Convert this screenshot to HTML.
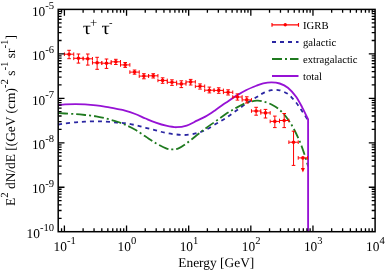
<!DOCTYPE html>
<html><head><meta charset="utf-8"><title>plot</title>
<style>html,body{margin:0;padding:0;background:#fff;font-family:"Liberation Serif",serif}svg{display:block;text-rendering:geometricPrecision} #w{will-change:transform;width:389px;height:273px}</style></head>
<body>
<div id="w">
<svg width="389" height="273" viewBox="0 0 389 273" style="display:block">
<g fill="none" stroke-linejoin="round">
<path d="M58.20 124.80 C58.35 124.75 57.97 124.72 59.10 124.50 C60.23 124.28 62.25 123.87 65.00 123.50 C67.75 123.13 72.27 122.62 75.60 122.30 C78.93 121.98 81.58 121.77 85.00 121.60 C88.42 121.43 92.60 121.28 96.10 121.30 C99.60 121.32 102.57 121.50 106.00 121.70 C109.43 121.90 113.53 122.25 116.70 122.50 C119.87 122.75 121.90 122.77 125.00 123.20 C128.10 123.63 131.87 124.33 135.30 125.10 C138.73 125.87 142.18 126.92 145.60 127.80 C149.02 128.68 152.38 129.53 155.80 130.40 C159.22 131.27 162.67 132.32 166.10 133.00 C169.53 133.68 172.97 134.18 176.40 134.50 C179.83 134.82 183.27 135.13 186.70 134.90 C190.13 134.67 193.90 133.90 197.00 133.10 C200.10 132.30 202.20 131.60 205.30 130.10 C208.40 128.60 212.18 126.12 215.60 124.10 C219.02 122.08 222.38 120.22 225.80 118.00 C229.22 115.78 232.67 113.22 236.10 110.80 C239.53 108.38 242.97 105.80 246.40 103.50 C249.83 101.20 253.90 98.73 256.70 97.00 C259.50 95.27 260.73 94.23 263.20 93.10 C265.67 91.97 268.75 90.67 271.50 90.20 C274.25 89.73 276.97 89.68 279.70 90.30 C282.43 90.92 285.85 92.65 287.90 93.90 C289.95 95.15 290.63 96.37 292.00 97.80 C293.37 99.23 294.90 100.98 296.10 102.50 C297.30 104.02 298.17 105.40 299.20 106.90 C300.23 108.40 301.33 110.07 302.30 111.50 C303.27 112.93 304.13 114.15 305.00 115.50 C305.87 116.85 307.08 118.92 307.50 119.60 " stroke="#2a26a2" stroke-width="1.8" stroke-dasharray="4 4"/>
<path d="M58.20 113.10 C58.35 113.12 57.97 113.13 59.10 113.20 C60.23 113.27 62.25 113.35 65.00 113.50 C67.75 113.65 72.27 113.85 75.60 114.10 C78.93 114.35 81.58 114.63 85.00 115.00 C88.42 115.37 92.60 115.72 96.10 116.30 C99.60 116.88 102.57 117.63 106.00 118.50 C109.43 119.37 113.53 120.47 116.70 121.50 C119.87 122.53 121.90 123.32 125.00 124.70 C128.10 126.08 131.87 127.82 135.30 129.80 C138.73 131.78 142.18 134.37 145.60 136.60 C149.02 138.83 152.38 141.25 155.80 143.20 C159.22 145.15 163.35 147.27 166.10 148.30 C168.85 149.33 170.23 149.40 172.30 149.40 C174.37 149.40 176.10 149.33 178.50 148.30 C180.90 147.27 183.62 145.42 186.70 143.20 C189.78 140.98 193.95 137.40 197.00 135.00 C200.05 132.60 201.90 131.08 205.00 128.80 C208.10 126.52 212.13 123.75 215.60 121.30 C219.07 118.85 222.38 116.33 225.80 114.10 C229.22 111.87 232.67 109.78 236.10 107.90 C239.53 106.02 242.97 104.00 246.40 102.80 C249.83 101.60 253.90 100.92 256.70 100.70 C259.50 100.48 260.73 100.87 263.20 101.50 C265.67 102.13 268.75 103.10 271.50 104.50 C274.25 105.90 276.97 107.45 279.70 109.90 C282.43 112.35 285.50 115.93 287.90 119.20 C290.30 122.47 292.08 125.70 294.10 129.50 C296.12 133.30 298.35 138.08 300.00 142.00 C301.65 145.92 302.80 149.47 304.00 153.00 C305.20 156.53 306.50 160.95 307.20 163.20 C307.90 165.45 308.03 165.95 308.20 166.50 " stroke="#1f7a1f" stroke-width="1.8" stroke-dasharray="10 3 2 3"/>
<path d="M58.20 105.10 C58.35 105.08 57.97 105.12 59.10 105.00 C60.23 104.88 62.25 104.54 65.00 104.40 C67.75 104.26 72.27 104.15 75.60 104.15 C78.93 104.15 81.58 104.19 85.00 104.40 C88.42 104.61 92.60 104.98 96.10 105.40 C99.60 105.82 102.57 106.32 106.00 106.90 C109.43 107.48 113.53 108.28 116.70 108.90 C119.87 109.52 121.90 109.75 125.00 110.60 C128.10 111.45 131.87 112.68 135.30 114.00 C138.73 115.32 142.18 117.07 145.60 118.50 C149.02 119.93 152.38 121.40 155.80 122.60 C159.22 123.80 162.67 124.93 166.10 125.70 C169.53 126.47 172.97 127.22 176.40 127.20 C179.83 127.18 183.27 126.68 186.70 125.60 C190.13 124.52 193.90 122.20 197.00 120.70 C200.10 119.20 202.20 118.40 205.30 116.60 C208.40 114.80 212.18 112.20 215.60 109.90 C219.02 107.60 222.38 105.13 225.80 102.80 C229.22 100.47 232.67 98.03 236.10 95.90 C239.53 93.77 242.97 91.72 246.40 90.00 C249.83 88.28 253.90 86.70 256.70 85.60 C259.50 84.50 260.73 83.93 263.20 83.40 C265.67 82.87 268.75 82.38 271.50 82.40 C274.25 82.42 276.97 82.62 279.70 83.50 C282.43 84.38 285.17 85.50 287.90 87.70 C290.63 89.90 293.70 93.38 296.10 96.70 C298.50 100.02 300.31 103.85 302.30 107.60 C304.29 111.35 307.09 117.27 308.05 119.20 L308.1 120.3 V231.7" stroke="#9612d5" stroke-width="1.85"/>
</g>
<g stroke="#ff0000" stroke-width="1.0" fill="none">
<path d="M64.40 54.20 H73.75 M64.40 52.40 V56.00 M73.75 52.40 V56.00"/>
<path d="M69.08 50.30 V58.70 M67.28 50.30 H70.88 M67.28 58.70 H70.88"/>
<path d="M73.75 58.30 H83.11 M73.75 56.50 V60.10 M83.11 56.50 V60.10"/>
<path d="M78.43 54.00 V63.10 M76.63 54.00 H80.23 M76.63 63.10 H80.23"/>
<path d="M83.11 58.80 H92.46 M83.11 57.00 V60.60 M92.46 57.00 V60.60"/>
<path d="M87.78 54.00 V65.10 M85.98 54.00 H89.58 M85.98 65.10 H89.58"/>
<path d="M92.46 62.80 H101.81 M92.46 61.00 V64.60 M101.81 61.00 V64.60"/>
<path d="M97.14 57.30 V69.30 M95.34 57.30 H98.94 M95.34 69.30 H98.94"/>
<path d="M101.81 63.20 H111.17 M101.81 61.40 V65.00 M111.17 61.40 V65.00"/>
<path d="M106.49 59.00 V68.40 M104.69 59.00 H108.29 M104.69 68.40 H108.29"/>
<path d="M111.17 61.80 H120.52 M111.17 60.00 V63.60 M120.52 60.00 V63.60"/>
<path d="M115.84 59.30 V64.50 M114.04 59.30 H117.64 M114.04 64.50 H117.64"/>
<path d="M120.52 64.90 H129.87 M120.52 63.10 V66.70 M129.87 63.10 V66.70"/>
<path d="M125.19 62.50 V67.40 M123.39 62.50 H126.99 M123.39 67.40 H126.99"/>
<path d="M129.87 72.10 H139.22 M129.87 70.30 V73.90 M139.22 70.30 V73.90"/>
<path d="M134.55 70.00 V74.20 M132.75 70.00 H136.35 M132.75 74.20 H136.35"/>
<path d="M139.22 76.10 H148.58 M139.22 74.30 V77.90 M148.58 74.30 V77.90"/>
<path d="M143.90 73.70 V78.80 M142.10 73.70 H145.70 M142.10 78.80 H145.70"/>
<path d="M148.58 75.80 H157.93 M148.58 74.00 V77.60 M157.93 74.00 V77.60"/>
<path d="M153.25 73.70 V78.00 M151.45 73.70 H155.05 M151.45 78.00 H155.05"/>
<path d="M157.93 80.40 H167.28 M157.93 78.60 V82.20 M167.28 78.60 V82.20"/>
<path d="M162.61 77.80 V83.30 M160.81 77.80 H164.41 M160.81 83.30 H164.41"/>
<path d="M167.28 82.30 H176.64 M167.28 80.50 V84.10 M176.64 80.50 V84.10"/>
<path d="M171.96 79.80 V85.40 M170.16 79.80 H173.76 M170.16 85.40 H173.76"/>
<path d="M176.64 83.90 H185.99 M176.64 82.10 V85.70 M185.99 82.10 V85.70"/>
<path d="M181.31 80.80 V87.60 M179.51 80.80 H183.11 M179.51 87.60 H183.11"/>
<path d="M185.99 81.90 H195.34 M185.99 80.10 V83.70 M195.34 80.10 V83.70"/>
<path d="M190.67 79.40 V85.00 M188.87 79.40 H192.47 M188.87 85.00 H192.47"/>
<path d="M195.34 86.30 H204.69 M195.34 84.50 V88.10 M204.69 84.50 V88.10"/>
<path d="M200.02 83.90 V89.10 M198.22 83.90 H201.82 M198.22 89.10 H201.82"/>
<path d="M204.69 90.20 H214.05 M204.69 88.40 V92.00 M214.05 88.40 V92.00"/>
<path d="M209.37 87.10 V92.90 M207.57 87.10 H211.17 M207.57 92.90 H211.17"/>
<path d="M214.05 90.40 H223.40 M214.05 88.60 V92.20 M223.40 88.60 V92.20"/>
<path d="M218.72 87.80 V93.30 M216.92 87.80 H220.52 M216.92 93.30 H220.52"/>
<path d="M223.40 92.30 H232.75 M223.40 90.50 V94.10 M232.75 90.50 V94.10"/>
<path d="M228.08 89.80 V95.00 M226.28 89.80 H229.88 M226.28 95.00 H229.88"/>
<path d="M232.75 97.00 H242.11 M232.75 95.20 V98.80 M242.11 95.20 V98.80"/>
<path d="M237.43 93.90 V100.10 M235.63 93.90 H239.23 M235.63 100.10 H239.23"/>
<path d="M242.11 99.90 H251.46 M242.11 98.10 V101.70 M251.46 98.10 V101.70"/>
<path d="M246.78 96.80 V103.00 M244.98 96.80 H248.58 M244.98 103.00 H248.58"/>
<path d="M251.46 111.00 H260.81 M251.46 109.20 V112.80 M260.81 109.20 V112.80"/>
<path d="M256.14 107.30 V115.20 M254.34 107.30 H257.94 M254.34 115.20 H257.94"/>
<path d="M260.81 112.90 H270.17 M260.81 111.10 V114.70 M270.17 111.10 V114.70"/>
<path d="M265.49 109.40 V118.00 M263.69 109.40 H267.29 M263.69 118.00 H267.29"/>
<path d="M270.17 121.40 H279.52 M270.17 119.60 V123.20 M279.52 119.60 V123.20"/>
<path d="M274.84 116.10 V127.60 M273.04 116.10 H276.64 M273.04 127.60 H276.64"/>
<path d="M279.52 120.50 H288.87 M279.52 118.70 V122.30 M288.87 118.70 V122.30"/>
<path d="M284.20 113.50 V127.60 M282.40 113.50 H286.00 M282.40 127.60 H286.00"/>
<path d="M288.87 142.20 H298.23 M288.87 140.40 V144.00 M298.23 140.40 V144.00"/>
<path d="M293.55 131.20 V165.40 M291.75 131.20 H295.35 M291.75 165.40 H295.35"/>
<path d="M298.23 157.90 H307.58 M298.23 156.10 V159.70 M307.58 156.10 V159.70"/>
<path d="M302.90 157.90 V169.00"/>
<path d="M300.90 168 L302.90 172.6 L304.90 168 Z" fill="#ff0000" stroke="none"/>
</g>
<g fill="#ff0000">
<circle cx="69.08" cy="54.20" r="1.8"/>
<circle cx="78.43" cy="58.30" r="1.8"/>
<circle cx="87.78" cy="58.80" r="1.8"/>
<circle cx="97.14" cy="62.80" r="1.8"/>
<circle cx="106.49" cy="63.20" r="1.8"/>
<circle cx="115.84" cy="61.80" r="1.8"/>
<circle cx="125.19" cy="64.90" r="1.8"/>
<circle cx="134.55" cy="72.10" r="1.8"/>
<circle cx="143.90" cy="76.10" r="1.8"/>
<circle cx="153.25" cy="75.80" r="1.8"/>
<circle cx="162.61" cy="80.40" r="1.8"/>
<circle cx="171.96" cy="82.30" r="1.8"/>
<circle cx="181.31" cy="83.90" r="1.8"/>
<circle cx="190.67" cy="81.90" r="1.8"/>
<circle cx="200.02" cy="86.30" r="1.8"/>
<circle cx="209.37" cy="90.20" r="1.8"/>
<circle cx="218.72" cy="90.40" r="1.8"/>
<circle cx="228.08" cy="92.30" r="1.8"/>
<circle cx="237.43" cy="97.00" r="1.8"/>
<circle cx="246.78" cy="99.90" r="1.8"/>
<circle cx="256.14" cy="111.00" r="1.8"/>
<circle cx="265.49" cy="112.90" r="1.8"/>
<circle cx="274.84" cy="121.40" r="1.8"/>
<circle cx="284.20" cy="120.50" r="1.8"/>
<circle cx="293.55" cy="142.20" r="1.8"/>
<circle cx="302.90" cy="157.90" r="1.8"/>
</g>
<g fill="none">
<path d="M272.0 24.85 H298.5 M272.0 22.9 V26.8 M298.5 22.9 V26.8" stroke="#ff0000" stroke-width="1.15"/>
<circle cx="285.25" cy="24.8" r="1.7" fill="#ff0000"/>
<path d="M272.0 42 H298.5" stroke="#2a26a2" stroke-width="2" stroke-dasharray="4 4"/>
<path d="M272.0 59 H298.5" stroke="#1f7a1f" stroke-width="2" stroke-dasharray="10 3 2 3"/>
<path d="M272.0 76 H298.5" stroke="#9612d5" stroke-width="2"/>
</g>
<g font-family="'Liberation Serif', serif" font-size="10.7" fill="#000">
<text x="303.0" y="28.7">IGRB</text>
<text x="303.0" y="45.7">galactic</text>
<text x="303.0" y="62.6">extragalactic</text>
<text x="303.0" y="79.6">total</text>
</g>
<rect x="58.20" y="9.40" width="316.90" height="222.30" fill="none" stroke="#000" stroke-width="1.50"/>
<path d="M61.56 231.70 V228.30 M61.56 9.40 V12.80 M64.40 231.70 V225.40 M64.40 9.40 V15.70 M83.11 231.70 V228.30 M83.11 9.40 V12.80 M94.05 231.70 V228.30 M94.05 9.40 V12.80 M101.81 231.70 V228.30 M101.81 9.40 V12.80 M107.83 231.70 V228.30 M107.83 9.40 V12.80 M112.75 231.70 V228.30 M112.75 9.40 V12.80 M116.91 231.70 V228.30 M116.91 9.40 V12.80 M120.52 231.70 V228.30 M120.52 9.40 V12.80 M123.70 231.70 V228.30 M123.70 9.40 V12.80 M126.54 231.70 V225.40 M126.54 9.40 V15.70 M145.25 231.70 V228.30 M145.25 9.40 V12.80 M156.19 231.70 V228.30 M156.19 9.40 V12.80 M163.95 231.70 V228.30 M163.95 9.40 V12.80 M169.97 231.70 V228.30 M169.97 9.40 V12.80 M174.89 231.70 V228.30 M174.89 9.40 V12.80 M179.05 231.70 V228.30 M179.05 9.40 V12.80 M182.66 231.70 V228.30 M182.66 9.40 V12.80 M185.84 231.70 V228.30 M185.84 9.40 V12.80 M188.68 231.70 V225.40 M188.68 9.40 V15.70 M207.39 231.70 V228.30 M207.39 9.40 V12.80 M218.33 231.70 V228.30 M218.33 9.40 V12.80 M226.09 231.70 V228.30 M226.09 9.40 V12.80 M232.11 231.70 V228.30 M232.11 9.40 V12.80 M237.03 231.70 V228.30 M237.03 9.40 V12.80 M241.19 231.70 V228.30 M241.19 9.40 V12.80 M244.80 231.70 V228.30 M244.80 9.40 V12.80 M247.98 231.70 V228.30 M247.98 9.40 V12.80 M250.82 231.70 V225.40 M250.82 9.40 V15.70 M269.53 231.70 V228.30 M269.53 9.40 V12.80 M280.47 231.70 V228.30 M280.47 9.40 V12.80 M288.23 231.70 V228.30 M288.23 9.40 V12.80 M294.25 231.70 V228.30 M294.25 9.40 V12.80 M299.17 231.70 V228.30 M299.17 9.40 V12.80 M303.33 231.70 V228.30 M303.33 9.40 V12.80 M306.94 231.70 V228.30 M306.94 9.40 V12.80 M310.12 231.70 V228.30 M310.12 9.40 V12.80 M312.96 231.70 V225.40 M312.96 9.40 V15.70 M331.67 231.70 V228.30 M331.67 9.40 V12.80 M342.61 231.70 V228.30 M342.61 9.40 V12.80 M350.37 231.70 V228.30 M350.37 9.40 V12.80 M356.39 231.70 V228.30 M356.39 9.40 V12.80 M361.31 231.70 V228.30 M361.31 9.40 V12.80 M365.47 231.70 V228.30 M365.47 9.40 V12.80 M369.08 231.70 V228.30 M369.08 9.40 V12.80 M372.26 231.70 V228.30 M372.26 9.40 V12.80 M58.20 218.32 H61.60 M375.10 218.32 H371.70 M58.20 210.49 H61.60 M375.10 210.49 H371.70 M58.20 204.93 H61.60 M375.10 204.93 H371.70 M58.20 200.62 H61.60 M375.10 200.62 H371.70 M58.20 197.10 H61.60 M375.10 197.10 H371.70 M58.20 194.13 H61.60 M375.10 194.13 H371.70 M58.20 191.55 H61.60 M375.10 191.55 H371.70 M58.20 189.27 H61.60 M375.10 189.27 H371.70 M58.20 187.24 H64.50 M375.10 187.24 H368.80 M58.20 173.86 H61.60 M375.10 173.86 H371.70 M58.20 166.03 H61.60 M375.10 166.03 H371.70 M58.20 160.47 H61.60 M375.10 160.47 H371.70 M58.20 156.16 H61.60 M375.10 156.16 H371.70 M58.20 152.64 H61.60 M375.10 152.64 H371.70 M58.20 149.67 H61.60 M375.10 149.67 H371.70 M58.20 147.09 H61.60 M375.10 147.09 H371.70 M58.20 144.81 H61.60 M375.10 144.81 H371.70 M58.20 142.78 H64.50 M375.10 142.78 H368.80 M58.20 129.40 H61.60 M375.10 129.40 H371.70 M58.20 121.57 H61.60 M375.10 121.57 H371.70 M58.20 116.01 H61.60 M375.10 116.01 H371.70 M58.20 111.70 H61.60 M375.10 111.70 H371.70 M58.20 108.18 H61.60 M375.10 108.18 H371.70 M58.20 105.21 H61.60 M375.10 105.21 H371.70 M58.20 102.63 H61.60 M375.10 102.63 H371.70 M58.20 100.35 H61.60 M375.10 100.35 H371.70 M58.20 98.32 H64.50 M375.10 98.32 H368.80 M58.20 84.94 H61.60 M375.10 84.94 H371.70 M58.20 77.11 H61.60 M375.10 77.11 H371.70 M58.20 71.55 H61.60 M375.10 71.55 H371.70 M58.20 67.24 H61.60 M375.10 67.24 H371.70 M58.20 63.72 H61.60 M375.10 63.72 H371.70 M58.20 60.75 H61.60 M375.10 60.75 H371.70 M58.20 58.17 H61.60 M375.10 58.17 H371.70 M58.20 55.89 H61.60 M375.10 55.89 H371.70 M58.20 53.86 H64.50 M375.10 53.86 H368.80 M58.20 40.48 H61.60 M375.10 40.48 H371.70 M58.20 32.65 H61.60 M375.10 32.65 H371.70 M58.20 27.09 H61.60 M375.10 27.09 H371.70 M58.20 22.78 H61.60 M375.10 22.78 H371.70 M58.20 19.26 H61.60 M375.10 19.26 H371.70 M58.20 16.29 H61.60 M375.10 16.29 H371.70 M58.20 13.71 H61.60 M375.10 13.71 H371.70 M58.20 11.43 H61.60 M375.10 11.43 H371.70 " stroke="#000" stroke-width="1.30" fill="none"/>
<g font-family="'Liberation Serif', serif" font-size="13.4" fill="#000">
<text x="64.70" y="250.6" text-anchor="middle">10<tspan font-size="10.6" dy="-6.7">-1</tspan></text>
<text x="126.84" y="250.6" text-anchor="middle">10<tspan font-size="10.6" dy="-6.7">0</tspan></text>
<text x="188.98" y="250.6" text-anchor="middle">10<tspan font-size="10.6" dy="-6.7">1</tspan></text>
<text x="251.12" y="250.6" text-anchor="middle">10<tspan font-size="10.6" dy="-6.7">2</tspan></text>
<text x="313.26" y="250.6" text-anchor="middle">10<tspan font-size="10.6" dy="-6.7">3</tspan></text>
<text x="375.40" y="250.6" text-anchor="middle">10<tspan font-size="10.6" dy="-6.7">4</tspan></text>
<text x="54.1" y="237.90" text-anchor="end">10<tspan font-size="10.6" dy="-6.7">-10</tspan></text>
<text x="54.1" y="193.44" text-anchor="end">10<tspan font-size="10.6" dy="-6.7">-9</tspan></text>
<text x="54.1" y="148.98" text-anchor="end">10<tspan font-size="10.6" dy="-6.7">-8</tspan></text>
<text x="54.1" y="104.52" text-anchor="end">10<tspan font-size="10.6" dy="-6.7">-7</tspan></text>
<text x="54.1" y="60.06" text-anchor="end">10<tspan font-size="10.6" dy="-6.7">-6</tspan></text>
<text x="54.1" y="15.60" text-anchor="end">10<tspan font-size="10.6" dy="-6.7">-5</tspan></text>
</g>
<text x="216.3" y="266.6" text-anchor="middle" font-family="'Liberation Serif', serif" font-size="13.4">Energy [GeV]</text>
<text transform="translate(15.2 206) rotate(-90)" font-family="'Liberation Serif', serif" font-size="13.4">E<tspan font-size="10.8" dy="-6.8">2</tspan><tspan dy="6.8"> dN/dE [(GeV (cm)</tspan><tspan font-size="10.8" dy="-6.8">-2</tspan><tspan dy="6.8"> s</tspan><tspan font-size="10.8" dy="-6.8">-1</tspan><tspan dy="6.8"> sr</tspan><tspan font-size="10.8" dy="-6.8">-1</tspan><tspan dy="6.8">]</tspan></text>
<g font-family="'Liberation Serif', serif" fill="#000">
<text transform="translate(82.7 34.2) scale(1.13 1)" font-size="18">τ</text>
<text x="90.0" y="26.8" font-size="12.8">+</text>
<text transform="translate(101.5 34.2) scale(1.13 1)" font-size="18">τ</text>
<text x="109.0" y="25.8" font-size="10.5">-</text>
</g>
</svg>
</div>
</body></html>
